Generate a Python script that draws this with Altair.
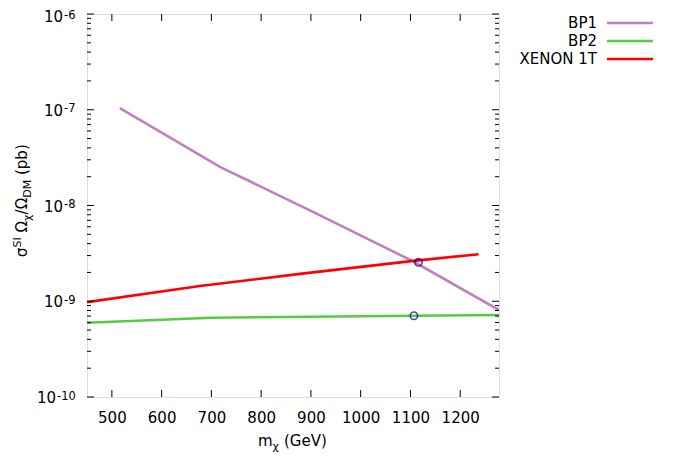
import altair as alt
import pandas as pd

# ---- data ----
bp1_mass = [516, 718, 900, 1106, 1278]
bp1_sigma = [1.04e-7, 2.52e-8, 8.8e-9, 2.6e-9, 8.1e-10]

bp2_mass = [450, 700, 900, 1106, 1278]
bp2_sigma = [5.97e-10, 6.73e-10, 6.9e-10, 7.06e-10, 7.18e-10]

xenon_mass = [450, 677, 878, 1106, 1237]
xenon_sigma = [9.8e-10, 1.44e-9, 1.93e-9, 2.64e-9, 3.1e-9]

point_mass = [1116, 1107]
point_sigma = [2.55e-9, 7.06e-10]

series_names = ["BP1", "BP2", "XENON 1T"]
series_colors = ["#c080c0", "#55cc44", "#ff0000"]

x_ticks = [500, 600, 700, 800, 900, 1000, 1100, 1200]
y_major = [1e-10, 1e-9, 1e-8, 1e-7, 1e-6]
y_exponents = ["-10", "-9", "-8", "-7", "-6"]
y_minor = [k * m for m in [1e-10, 1e-9, 1e-8, 1e-7] for k in range(2, 10)]

W, H = 412, 383
FONT = "DejaVu Sans"

rows = []
for n, xs, ys in zip(series_names, [bp1_mass, bp2_mass, xenon_mass],
                     [bp1_sigma, bp2_sigma, xenon_sigma]):
    for i, (a, b) in enumerate(zip(xs, ys)):
        rows.append({"series": n, "mass": a, "sigma": b, "order": i})
df = pd.DataFrame(rows)
pts = pd.DataFrame({"mass": point_mass, "sigma": point_sigma})

xscale = alt.Scale(domain=[450, 1278], nice=False, zero=False)
yscale = alt.Scale(type="log", domain=[1e-10, 1e-6], nice=False)

lines = alt.Chart(df).mark_line(strokeWidth=2.6, clip=True).encode(
    x=alt.X("mass:Q", scale=xscale,
            axis=alt.Axis(values=x_ticks, title=None, tickSize=0, domain=False,
                          grid=False, labelFont=FONT, labelFontSize=15,
                          labelColor="black", labelPadding=13, format="d")),
    y=alt.Y("sigma:Q", scale=yscale,
            axis=alt.Axis(values=y_major, title=None, tickSize=0, domain=False,
                          grid=False, labels=False)),
    color=alt.Color("series:N", scale=alt.Scale(domain=series_names, range=series_colors),
                    legend=None),
    order="order:Q",
)

points = alt.Chart(pts).mark_point(shape="circle", filled=False, size=55,
                                   strokeWidth=1.6, color="#00008b").encode(
    x=alt.X("mass:Q", scale=xscale), y=alt.Y("sigma:Q", scale=yscale))

# inward ticks (gnuplot style), positioned through the scales
xt = pd.DataFrame({"v": x_ticks})
ymaj = pd.DataFrame({"v": y_major, "e": y_exponents})
ymin = pd.DataFrame({"v": y_minor})
tick_layers = [
    alt.Chart(xt).mark_rule(color="black", strokeWidth=1).encode(
        x=alt.X("v:Q", scale=xscale), y=alt.value(H), y2=alt.value(H - 7)),
    alt.Chart(xt).mark_rule(color="black", strokeWidth=1).encode(
        x=alt.X("v:Q", scale=xscale), y=alt.value(0), y2=alt.value(7)),
    alt.Chart(ymaj).mark_rule(color="black", strokeWidth=1).encode(
        y=alt.Y("v:Q", scale=yscale), x=alt.value(0), x2=alt.value(7)),
    alt.Chart(ymaj).mark_rule(color="black", strokeWidth=1).encode(
        y=alt.Y("v:Q", scale=yscale), x=alt.value(W), x2=alt.value(W - 7)),
    alt.Chart(ymin).mark_rule(color="black", strokeWidth=1).encode(
        y=alt.Y("v:Q", scale=yscale), x=alt.value(0), x2=alt.value(4)),
    alt.Chart(ymin).mark_rule(color="black", strokeWidth=1).encode(
        y=alt.Y("v:Q", scale=yscale), x=alt.value(W), x2=alt.value(W - 4)),
]

# y tick labels "10" with superscript exponent, placed through the y scale
def ylabels(filt, base_x, dy_ten=6, dy_exp=2.5):
    base = alt.Chart(ymaj).transform_filter(filt)
    ten = base.mark_text(text="10", font=FONT, fontSize=15, align="right",
                         baseline="alphabetic", dy=dy_ten, color="black").encode(
        y=alt.Y("v:Q", scale=yscale), x=alt.value(base_x))
    ex = base.mark_text(font=FONT, fontSize=11.5, align="left",
                        baseline="alphabetic", dy=dy_exp, color="black").encode(
        y=alt.Y("v:Q", scale=yscale), x=alt.value(base_x + 1), text="e:N")
    return [ten, ex]


ylabel_layers = (ylabels("datum.v > 5e-10 && datum.v < 5e-7", -24)
                 + ylabels("datum.v > 5e-7", -24, dy_ten=8, dy_exp=5)
                 + ylabels("datum.v < 5e-10", -31))

one = alt.Data(values=[{"k": 0}])


def txt(t, x, y, size=15, angle=0, align="left", baseline="alphabetic"):
    kw = dict(text=t, font=FONT, fontSize=size, align=align,
              baseline=baseline, color="black")
    if angle:
        kw["angle"] = angle
    return alt.Chart(one).mark_text(**kw).encode(x=alt.value(x), y=alt.value(y))


# composed axis titles (super/subscripts)
title_layers = [
    txt("m", 171, 432),
    txt("χ", 185.6, 436, size=11),
    txt("(GeV)", 197, 432),
    txt("σ", -60, 243, angle=270),
    txt("SI", -66, 233.5, size=11, angle=270),
    txt("Ω", -60, 218.5, angle=270),
    txt("χ", -56, 207, size=11, angle=270),
    txt("/Ω", -60, 200.4, angle=270),
    txt("DM", -56, 183.8, size=11, angle=270),
    txt("(pb)", -60, 161, angle=270),
]

# gnuplot-style key: label left, line sample right
legend_layers = []
for i, (n, c) in enumerate(zip(series_names, series_colors)):
    yy = 9 + 18 * i
    legend_layers.append(txt(n, 510, yy, align="right", baseline="middle"))
    legend_layers.append(
        alt.Chart(one).mark_rule(color=c, strokeWidth=2.6).encode(
            x=alt.value(520), x2=alt.value(566), y=alt.value(yy)))

chart = alt.layer(lines, *tick_layers, points, *ylabel_layers, *title_layers,
                  *legend_layers).properties(
    width=W, height=H,
    autosize=alt.AutoSizeParams(type="none"),
    padding={"left": 79, "top": 6, "right": 189, "bottom": 58},
).configure_view(stroke="black", strokeWidth=1.2).configure(background="white")

chart.save("out.html", embed_options={"renderer": "svg", "actions": False})
